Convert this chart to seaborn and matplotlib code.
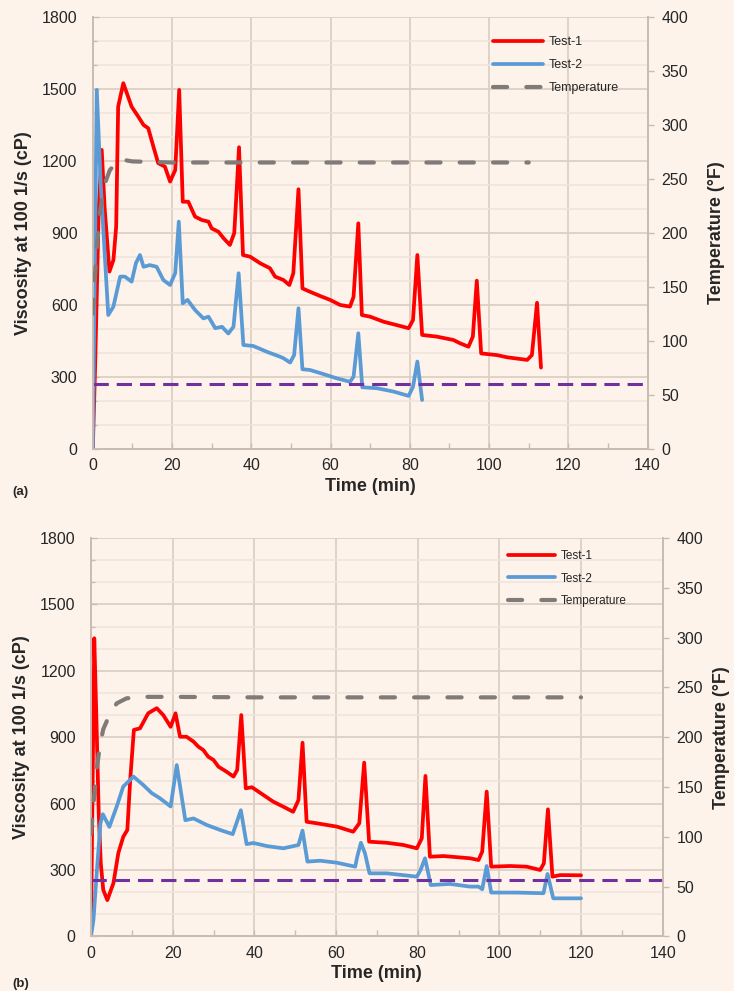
import matplotlib
matplotlib.use("Agg")
import matplotlib.pyplot as plt
from matplotlib.ticker import MultipleLocator
from matplotlib.lines import Line2D
import seaborn as sns

# ---------------- data: panel (a) ----------------
a_test1_t = [0, 0.6, 1.5, 2.25, 3.0, 4.2, 5.2, 5.9, 6.4, 7.7, 9.8, 11.5, 12.8, 14.0, 15.3, 16.5,
             18.2, 19.5, 20.8, 21.8, 22.7, 24.1, 25.8, 27.5, 29.2, 30.0, 31.7, 33.0, 34.6, 35.7,
             36.9, 37.9, 39.7, 42.2, 44.7, 46.0, 48.1, 49.6, 50.6, 51.9, 52.9, 54.8, 57.4, 59.9,
             62.4, 64.9, 65.8, 67.0, 67.9, 70.0, 73.4, 76.7, 79.7, 80.8, 81.9, 83.1, 86.8, 91.0,
             92.7, 94.8, 95.9, 96.9, 98.0, 102.0, 104.5, 109.6, 110.8, 112.1, 113.1]
a_test1_v = [0, 350, 1000, 1245, 1000, 738, 786, 925, 1425, 1523, 1425, 1383, 1349, 1335, 1258, 1190,
             1175, 1113, 1161, 1495, 1029, 1029, 967, 953, 946, 918, 904, 877, 849, 899,
             1256, 807, 800, 773, 752, 717, 703, 682, 731, 1081, 668, 654, 636, 620,
             599, 592, 633, 939, 557, 550, 529, 515, 502, 536, 807, 474, 467, 453,
             439, 425, 467, 700, 397, 390, 381, 370, 390, 608, 338]

a_test2_t = [0, 1.0, 2.0, 3.9, 5.2, 6.9, 8.1, 9.8, 10.9, 11.9, 12.8, 14.4, 16.1, 17.8, 19.5,
             20.8, 21.7, 22.7, 23.9, 25.8, 27.9, 29.2, 30.9, 32.6, 34.2, 35.5, 36.8, 38.0, 40.5,
             43.9, 47.3, 48.1, 49.8, 50.8, 51.9, 52.9, 54.8, 58.2, 61.6, 64.9, 65.8, 67.0, 68.0,
             71.7, 75.9, 79.7, 80.8, 81.9, 83.1]
a_test2_v = [0, 1495, 1100, 557, 592, 717, 717, 696, 774, 807, 758, 765, 758, 703, 682,
             732, 946, 606, 620, 578, 543, 550, 502, 508, 480, 508, 731, 432, 428,
             404, 383, 377, 359, 390, 585, 331, 328, 311, 293, 279, 300, 481, 256,
             252, 238, 220, 258, 363, 203]

a_temp_t = [0, 1.0, 2.0, 3.1, 4.3, 6.8, 10, 20, 40, 60, 80, 100, 110]
a_temp_v = [125, 187, 224, 246, 258, 268, 266, 265, 265, 265, 265, 265, 265]
a_ref_level = 268  # cP, purple dashed reference

# ---------------- data: panel (b) ----------------
b_test1_t = [0, 0.4, 0.8, 1.3, 1.9, 2.4, 3.0, 4.0, 5.5, 6.7, 7.9, 8.9, 9.6, 10.5, 12.0,
             14.0, 16.1, 17.7, 19.5, 20.7, 21.8, 23.4, 25.1, 26.3, 27.5, 28.7, 30.0, 31.2, 33.2,
             34.9, 35.8, 36.8, 37.9, 39.4, 42.2, 44.6, 47.1, 49.5, 50.8, 51.8, 52.8, 55.3, 60.2,
             64.2, 65.7, 66.9, 68.1, 72.4, 76.5, 79.8, 81.0, 81.9, 83.0, 86.3, 92.8, 94.9, 95.8,
             96.9, 98.0, 102.6, 106.7, 110.0, 110.9, 111.9, 113.0, 114.9, 120.0]
b_test1_v = [27, 700, 1347, 1000, 550, 330, 210, 164, 241, 377, 450, 481, 707, 933, 940,
             1008, 1031, 1000, 947, 1008, 902, 902, 880, 857, 842, 812, 797, 767, 744,
             722, 752, 1000, 669, 674, 639, 609, 586, 563, 616, 875, 518, 511, 496,
             473, 511, 785, 428, 423, 413, 398, 443, 725, 360, 363, 353, 345, 383,
             654, 315, 318, 315, 300, 330, 574, 270, 277, 276]

b_test2_t = [0, 0.6, 1.4, 2.3, 2.9, 4.5, 6.3, 7.9, 10.4, 12.8, 14.9, 16.9, 19.5, 21.0, 23.1,
             25.1, 28.4, 31.6, 34.7, 36.7, 38.1, 39.8, 43.1, 47.1, 50.8, 51.8, 53.0, 56.1, 60.2,
             64.7, 65.2, 66.1, 67.1, 68.2, 72.4, 79.8, 80.7, 81.8, 83.2, 87.9, 92.8, 94.9, 95.8,
             96.9, 98.0, 104.3, 110.8, 111.8, 113.2, 120.0]
b_test2_v = [0, 75, 285, 510, 552, 495, 587, 677, 722, 684, 647, 624, 587, 774, 525,
             533, 503, 481, 462, 570, 417, 422, 408, 398, 413, 478, 338, 342, 333,
             315, 360, 423, 375, 285, 285, 270, 300, 353, 232, 237, 225, 225, 213,
             318, 198, 198, 195, 282, 172, 172]

b_temp_t = [0, 0.7, 1.4, 2.2, 3.0, 4.7, 6.3, 8.7, 12, 20, 40, 60, 80, 100, 120]
b_temp_v = [103, 137, 168, 192, 208, 224, 234, 239, 240.5, 240.5, 240, 240, 240, 240, 240]
b_ref_level = 255

ref_span = [0, 140]

series_names = ["Test-1", "Test-2", "Temperature"]
visc_ticks = [0, 300, 600, 900, 1200, 1500, 1800]
temp_ticks = [0, 50, 100, 150, 200, 250, 300, 350, 400]
time_ticks = [0, 20, 40, 60, 80, 100, 120, 140]

# ---------------- style ----------------
sns.set_theme(style="white")
plt.rcParams['font.family'] = ['Liberation Sans', 'DejaVu Sans']

BG = '#FDF3EB'
GRID_MAJ = '#DCD0C5'
GRID_MIN = '#EEE4DB'
SPINE = '#C9BDB3'
RED = '#FF0000'
BLUE = '#5B9BD5'
GRAY = '#807B78'
PURPLE = '#7030A0'

W, H = 734, 991
fig = plt.figure(figsize=(W / 100, H / 100), dpi=100, facecolor=BG)


def panel(px_box, t1, v1, t2, v2, tt, tv, ref, leg_xy, leg_fs, tag, tag_xy, rpad):
    x0, y0, x1, y1 = px_box
    ax = fig.add_axes([x0 / W, 1 - y1 / H, (x1 - x0) / W, (y1 - y0) / H])
    ax.set_facecolor(BG)
    ax2 = ax.twinx()

    sns.lineplot(x=t1, y=v1, ax=ax, color=RED, lw=2.7, estimator=None, sort=False, zorder=3,
                 solid_joinstyle='round', solid_capstyle='round')
    sns.lineplot(x=t2, y=v2, ax=ax, color=BLUE, lw=2.7, estimator=None, sort=False, zorder=3,
                 solid_joinstyle='round', solid_capstyle='round')
    sns.lineplot(x=ref_span, y=[ref, ref], ax=ax, color=PURPLE, lw=2.2,
                 linestyle=(0, (5, 2.6)), estimator=None, zorder=4)
    sns.lineplot(x=tt, y=tv, ax=ax2, color=GRAY, lw=3.0, linestyle=(0, (3.4, 4.6)),
                 dash_capstyle='round', dash_joinstyle='round', estimator=None, sort=False, zorder=3)

    ax.set_xlim(0, 140)
    ax.set_ylim(0, 1800)
    ax2.set_ylim(0, 400)
    ax.set_xticks(time_ticks)
    ax.set_yticks(visc_ticks)
    ax2.set_yticks(temp_ticks)
    ax.xaxis.set_minor_locator(MultipleLocator(10))
    ax.yaxis.set_minor_locator(MultipleLocator(100))

    ax.set_axisbelow(True)
    ax.grid(which='major', axis='both', color=GRID_MAJ, lw=1.3)
    ax.grid(which='minor', axis='y', color=GRID_MIN, lw=1.1)
    ax2.grid(False)

    for a in (ax, ax2):
        a.spines['top'].set_visible(False)
        for s in ('left', 'right', 'bottom'):
            a.spines[s].set_color(SPINE)
            a.spines[s].set_linewidth(1.3)

    ax.tick_params(axis='x', which='both', direction='in', length=4, width=1, color=SPINE,
                   labelsize=11.5, pad=7, bottom=True)
    ax.tick_params(axis='y', which='major', direction='in', length=4, width=1, color=SPINE,
                   labelsize=11.5, pad=11, left=True)
    ax.tick_params(axis='y', which='minor', direction='in', length=3, width=1, color=SPINE, left=True)
    ax2.tick_params(axis='y', which='major', direction='out', length=4, width=1, color=SPINE,
                    labelsize=11.5, pad=6, right=True)

    ax.set_xlabel("Time (min)", fontsize=13, fontweight='bold', labelpad=3)
    ax.set_ylabel("Viscosity at 100 1/s (cP)", fontsize=13, fontweight='bold', labelpad=7)
    ax2.set_ylabel("Temperature (°F)", fontsize=13, fontweight='bold', labelpad=rpad)

    handles = [Line2D([], [], color=RED, lw=2.7),
               Line2D([], [], color=BLUE, lw=2.7),
               Line2D([], [], color=GRAY, lw=3.0, linestyle=(0, (3.4, 4.6)), dash_capstyle='round')]
    ax2.legend(handles, series_names, loc='upper left',
               bbox_to_anchor=(leg_xy[0] / W, 1 - leg_xy[1] / H), bbox_transform=fig.transFigure,
               frameon=False, fontsize=leg_fs, handlelength=4.0, handletextpad=0.45,
               labelspacing=0.9, borderpad=0, borderaxespad=0)

    fig.text(tag_xy[0] / W, 1 - tag_xy[1] / H, tag, fontsize=9.5, fontweight='bold',
             ha='left', va='center')
    return ax, ax2


panel((92.8, 16.7, 647.6, 448.7), a_test1_t, a_test1_v, a_test2_t, a_test2_v,
      a_temp_t, a_temp_v, a_ref_level, (493, 36), 9, "(a)", (12, 492), 14)
panel((91.0, 538.0, 662.7, 936.4), b_test1_t, b_test1_v, b_test2_t, b_test2_v,
      b_temp_t, b_temp_v, b_ref_level, (508, 550), 8.5, "(b)", (12, 984), 7)

fig.savefig("out.png", dpi=100, facecolor=BG)
